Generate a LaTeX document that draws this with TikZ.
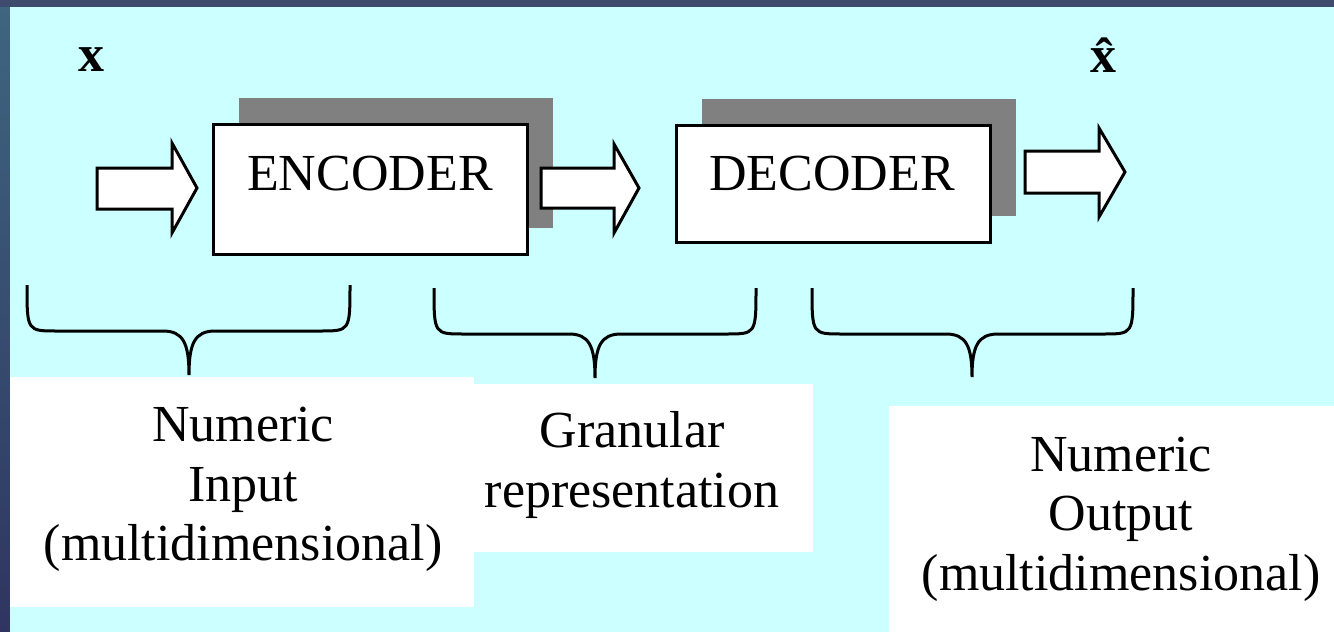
\documentclass[tikz,border=0pt]{standalone}
\usepackage{fontspec}
\setmainfont{Liberation Serif}
\usetikzlibrary{shadows}

\definecolor{slideblue}{HTML}{3E4B6C}
\definecolor{slideteal}{HTML}{3F6580}
\definecolor{slidedark}{HTML}{2F3560}
\definecolor{paleCyan}{HTML}{CCFFFF}
\definecolor{shadowgray}{HTML}{808080}

\tikzset{
  coder/.style={draw, line width=1.5pt, fill=white, minimum width=157pt, inner sep=0pt,
    general shadow={fill=shadowgray, shadow xshift=13pt, shadow yshift=13pt}},
  bigtext/.style={font=\fontsize{26}{29.8}\selectfont, align=center},
  blockarrow/.style={draw, line width=1.5pt, fill=white, line join=miter},
  curly/.style={line width=1.5pt}
}

\begin{document}
\begin{tikzpicture}[x=0.5pt, y=-0.5pt]
  \useasboundingbox (0,0) rectangle (1334,632);
  % slide background
  \fill[slideblue] (0,0) rectangle (1334,632);
  \shade[top color=slideteal, bottom color=slidedark] (0,7) rectangle (10,632);
  \fill[paleCyan] (10,7) rectangle (1334,632);

  % white label panels
  \fill[white] (10,377) rectangle (474,607);
  \fill[white] (474,384) rectangle (813,552);
  \fill[white] (889,406) rectangle (1334,632);

  % coder blocks
  \node[coder, minimum height=65pt] (enc) at (370,189) {};
  \node[coder, minimum height=58.5pt] (dec) at (833,183.5) {};
  \node[bigtext] (enctext) at (370,174) {ENCODER};
  \node[bigtext] (dectext) at (832,174) {DECODER};

  \node[bigtext] (xin) at (91,60) {\textbf{x}};
  \node[bigtext] (xout) at (1108,55.5) {\textbf{\^{x}}};

  % block arrows
  \draw[blockarrow] (97,168) -- (172,168) -- (172,143) -- (197,188) -- (172,233) -- (172,209) -- (97,209) -- cycle;
  \draw[blockarrow] (541,168) -- (614,168) -- (614,144) -- (639,188) -- (614,233) -- (614,208) -- (541,208) -- cycle;
  \draw[blockarrow] (1025,151) -- (1099,151) -- (1099,128) -- (1125,172) -- (1099,217) -- (1099,193) -- (1025,193) -- cycle;

  % braces
  \draw[curly] (27,285) .. controls (27,331) .. (57,331) -- (163,331)
    .. controls (183,331) and (189,343) .. (189,375)
    .. controls (189,343) and (195,331) .. (215,331) -- (320,331)
    .. controls (350,331) .. (350,285);
  \draw[curly] (434,288) .. controls (434,334) .. (464,334) -- (569,334)
    .. controls (589,334) and (595,346) .. (595,378)
    .. controls (595,346) and (601,334) .. (621,334) -- (726,334)
    .. controls (756,334) .. (756,288);
  \draw[curly] (812,288) .. controls (812,334) .. (842,334) -- (946,334)
    .. controls (966,334) and (972,346) .. (972,377)
    .. controls (972,346) and (978,334) .. (998,334) -- (1103,334)
    .. controls (1133,334) .. (1133,288);

  % labels
  \node[bigtext] (inlabel) at (243,489.5) {Numeric\\Input\\(multidimensional)};
  \node[bigtext] (granlabel) at (632,465) {Granular\\representation};
  \node[bigtext] (outlabel) at (1121,519) {Numeric\\Output\\(multidimensional)};
\end{tikzpicture}
\end{document}
